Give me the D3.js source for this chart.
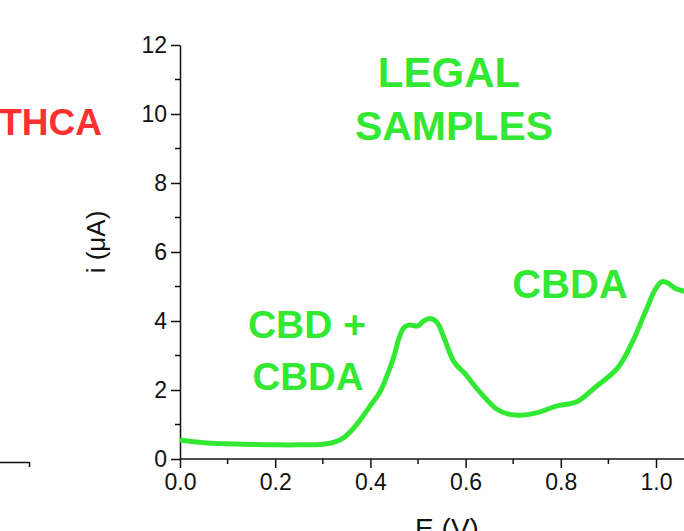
<!DOCTYPE html>
<html>
<head>
<meta charset="utf-8">
<script src="https://cdn.jsdelivr.net/npm/d3@7"></script>
<style>
  body { margin: 0; background: #fff; }
  svg { display: block; font-family: Arial, "Liberation Sans", sans-serif; }
  .axis path, .axis line { stroke: #111; stroke-width: 1.5; }
  .axis text { font-size: 23px; fill: #111; }
</style>
</head>
<body>
<svg id="chart" width="684" height="531"></svg>
<script>
// potential (V) and current (uA)
const potential = [0.00, 0.05, 0.10, 0.15, 0.20, 0.25, 0.30, 0.32, 0.34, 0.36, 0.38, 0.40, 0.42, 0.44, 0.45, 0.46, 0.47, 0.48, 0.50, 0.51, 0.525, 0.54, 0.555, 0.575, 0.60, 0.63, 0.665, 0.69, 0.715, 0.755, 0.79, 0.835, 0.87, 0.92, 0.95, 0.98, 1.00, 1.013, 1.025, 1.04, 1.06];
const current   = [0.55, 0.47, 0.44, 0.42, 0.41, 0.41, 0.43, 0.47, 0.58, 0.82, 1.16, 1.55, 1.94, 2.6, 3.0, 3.5, 3.8, 3.88, 3.86, 3.98, 4.07, 3.96, 3.5, 2.83, 2.45, 1.94, 1.45, 1.3, 1.27, 1.36, 1.53, 1.67, 2.05, 2.65, 3.38, 4.34, 4.95, 5.14, 5.1, 4.95, 4.86];
const xMajor = [0, 0.2, 0.4, 0.6, 0.8, 1.0];
const xMinor = [0.1, 0.3, 0.5, 0.7, 0.9];
const yMajor = [0, 2, 4, 6, 8, 10, 12];
const yMinor = [1, 3, 5, 7, 9, 11];

const green = '#33e833';
const red = '#ff3030';

const svg = d3.select('#chart');

const x = d3.scaleLinear().domain([0, 1.0]).range([180, 656]);
const y = d3.scaleLinear().domain([0, 12]).range([459, 45]);

// x axis (runs off the right edge)
const xAxisG = svg.append('g').attr('class', 'axis')
  .attr('transform', 'translate(0,459)');
xAxisG.append('line').attr('x1', x(0)).attr('x2', 684).attr('y1', 0).attr('y2', 0);
xAxisG.call(d3.axisBottom(x).tickValues(xMajor).tickSize(9).tickPadding(6).tickFormat(d3.format('.1f')));
xAxisG.select('.domain').remove();
xAxisG.selectAll('.minor').data(xMinor).enter().append('line')
  .attr('class', 'minor')
  .attr('x1', d => x(d)).attr('x2', d => x(d))
  .attr('y1', 0).attr('y2', 5);

// y axis
const yAxisG = svg.append('g').attr('class', 'axis')
  .attr('transform', 'translate(180,0)');
yAxisG.call(d3.axisLeft(y).tickValues(yMajor).tickSize(9).tickPadding(4).tickSizeOuter(0));
yAxisG.selectAll('.minor').data(yMinor).enter().append('line')
  .attr('class', 'minor')
  .attr('x1', 0).attr('x2', -5)
  .attr('y1', d => y(d)).attr('y2', d => y(d));

// piece of the neighbouring panel's x axis on the left
const leftAxis = d3.scaleLinear().domain([0, 1]).range([-200, 29]);
const leftG = svg.append('g').attr('class', 'axis')
  .attr('transform', 'translate(0,462)');
leftG.call(d3.axisBottom(leftAxis).tickValues([1]).tickSize(5).tickSizeOuter(0).tickFormat(''));

// axis titles
svg.append('text')
  .attr('transform', 'translate(105,242) rotate(-90)')
  .attr('text-anchor', 'middle')
  .style('font-size', '26px').style('fill', '#111')
  .text('i (\u03bcA)');
svg.append('text')
  .attr('x', 447).attr('y', 538)
  .attr('text-anchor', 'middle')
  .style('font-size', '28px').style('fill', '#111')
  .text('E (V)');

// curve
const pts = potential.map((p, i) => [p, current[i]]);
const line = d3.line()
  .x(d => x(d[0]))
  .y(d => y(d[1]))
  .curve(d3.curveCatmullRom.alpha(0.5));
svg.append('path')
  .datum(pts)
  .attr('fill', 'none')
  .attr('stroke', green)
  .attr('stroke-width', 5)
  .attr('stroke-linejoin', 'round')
  .attr('d', line);

// annotations
function label(txt, cx, by, size, color) {
  svg.append('text')
    .attr('x', cx).attr('y', by)
    .attr('text-anchor', 'middle')
    .style('font-size', size + 'px')
    .style('font-weight', 'bold')
    .style('fill', color)
    .text(txt);
}
label('LEGAL', 449, 87, 42, green);
label('SAMPLES', 454, 140, 41, green);
label('CBD +', 307, 338, 39, green);
label('CBDA', 308, 390, 38.5, green);
label('CBDA', 570, 298, 40, green);
svg.append('text')
  .attr('x', 102).attr('y', 135)
  .attr('text-anchor', 'end')
  .style('font-size', '37px').style('font-weight', 'bold')
  .style('fill', red)
  .text('THCA');
</script>
</body>
</html>
